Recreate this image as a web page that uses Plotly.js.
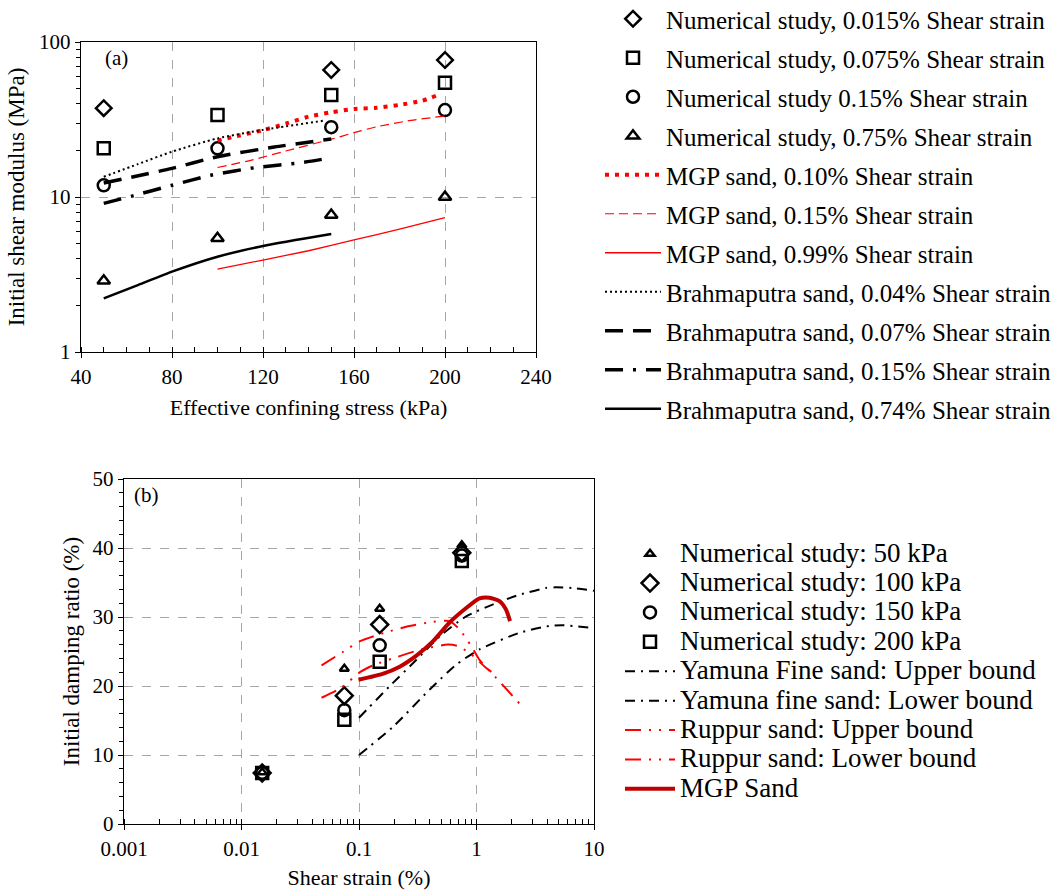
<!DOCTYPE html>
<html><head><meta charset="utf-8">
<script src="https://cdn.plot.ly/plotly-3.0.1.min.js"></script>
<style>html,body{margin:0;padding:0;background:#fff}#chart{width:1063px;height:890px}</style>
</head><body><div id="chart"></div>
<script>
// ---------- Panel (a): initial shear modulus vs effective confining stress ----------
const stressNum = [50, 100, 150, 200];
const stressNum015 = [50, 150, 200];
const gNum015 = [37.4, 66.0, 76.5];
const gNum075 = [20.6, 33.8, 45.5, 54.6];
const gNum15 = [11.9, 20.6, 28.2, 36.4];
const gNum75 = [2.88, 5.42, 7.65, 10.0];

const mgp010X = [100, 110, 120, 130, 140, 150, 160, 170, 180, 190, 196];
const mgp010Y = [23.1, 25.0, 27.0, 29.7, 33.0, 35.2, 37.0, 37.6, 39.3, 41.8, 45.0];
const mgp015X = [100, 115, 130, 150, 160, 170, 185, 200];
const mgp015Y = [15.5, 17.3, 19.8, 23.6, 26.0, 28.4, 31.2, 33.3];
const mgp099X = [100, 120, 140, 160, 180, 200];
const mgp099Y = [3.42, 3.92, 4.5, 5.28, 6.2, 7.36];

const bra004X = [50, 65, 80, 100, 120, 147];
const bra004Y = [13.5, 16.3, 19.6, 23.9, 27.1, 31.1];
const bra007X = [50, 80, 100, 125, 150];
const bra007Y = [12.3, 15.3, 18.2, 21.0, 23.7];
const bra015X = [50, 62, 80, 98, 117, 136, 149];
const bra015Y = [9.1, 10.1, 11.9, 13.9, 15.5, 16.6, 17.8];
const bra074X = [50, 65, 80, 100, 120, 150];
const bra074Y = [2.22, 2.7, 3.30, 4.12, 4.83, 5.77];

const namesA = [
  "Numerical study, 0.015% Shear strain",
  "Numerical study, 0.075% Shear strain",
  "Numerical study 0.15% Shear strain",
  "Numerical study, 0.75% Shear strain",
  "MGP sand, 0.10% Shear strain",
  "MGP sand, 0.15% Shear strain",
  "MGP sand, 0.99% Shear strain",
  "Brahmaputra sand, 0.04% Shear strain",
  "Brahmaputra sand, 0.07% Shear strain",
  "Brahmaputra sand, 0.15% Shear strain",
  "Brahmaputra sand, 0.74% Shear strain"
];

// ---------- Panel (b): initial damping ratio vs shear strain ----------
const strainNum = [0.015, 0.075, 0.15, 0.75];
const d50 = [7.5, 22.5, 31.2, 40.4];
const d100 = [7.4, 18.6, 28.9, 39.3];
const d150 = [7.4, 16.5, 25.9, 38.9];
const d200 = [7.4, 15.1, 23.5, 38.1];

const yamUpX = [0.1, 0.183, 0.308, 0.486, 0.817, 1.37, 2.3, 3.89, 4.7, 6.5, 10];
const yamUpY = [15.4, 20.0, 23.8, 27.2, 30.1, 31.8, 33.2, 34.2, 34.3, 34.2, 33.8];
const yamLoX = [0.1, 0.195, 0.40, 0.673, 1.06, 2.31, 4.15, 5.5, 10];
const yamLoY = [10.0, 14.1, 19.5, 23.1, 25.3, 27.7, 28.7, 28.8, 28.4];
const rupUpX = [0.048, 0.074, 0.102, 0.171, 0.27, 0.427, 0.59, 0.717, 0.90, 1.06, 1.62, 2.31];
const rupUpY = [23.0, 25.0, 26.5, 27.8, 28.7, 29.3, 29.4, 28.2, 25.8, 23.8, 20.4, 17.5];
const rupLoX = [0.048, 0.070, 0.102, 0.132, 0.202, 0.34, 0.571, 0.695, 0.90, 1.21, 1.52];
const rupLoY = [18.3, 19.7, 22.0, 23.0, 24.1, 25.3, 26.0, 25.8, 24.6, 22.6, 21.4];
const mgpSandX = [0.099, 0.161, 0.222, 0.308, 0.427, 0.59, 0.817, 1.06, 1.29, 1.57, 1.78, 1.93];
const mgpSandY = [20.9, 21.8, 22.8, 24.4, 26.5, 29.2, 31.3, 32.7, 32.8, 32.3, 31.1, 29.4];

const namesB = [
  "Numerical study: 50 kPa",
  "Numerical study: 100 kPa",
  "Numerical study: 150 kPa",
  "Numerical study: 200 kPa",
  "Yamuna Fine sand: Upper bound",
  "Yamuna fine sand: Lower bound",
  "Ruppur sand: Upper bound",
  "Ruppur sand: Lower bound",
  "MGP Sand"
];

const FONT = "'Liberation Serif', 'Times New Roman', serif";
const W = 1063, H = 890;
const px = v => v / W, py = v => 1 - v / H;

function mk(x, y, name, sym, size, i) {
  return {x, y, name, type: 'scatter', mode: 'markers', xaxis: 'x', yaxis: 'y',
    legend: 'legend', legendgroup: 'a' + i,
    marker: {symbol: sym, size: size, color: '#000', line: {color: '#000', width: 2.5}}};
}
function ln(x, y, name, color, width, dash, i) {
  return {x, y, name, type: 'scatter', mode: 'lines', xaxis: 'x', yaxis: 'y',
    legend: 'legend', legendgroup: 'a' + i,
    line: {color, width, dash, shape: 'spline', smoothing: 0.6}};
}
const bigB = s => '<span style="font-size:27px">' + s + '</span>';
function mkB(x, y, name, sym, size) {
  return {x, y, name: bigB(name), type: 'scatter', mode: 'markers', xaxis: 'x2', yaxis: 'y2',
    legend: 'legend2',
    marker: {symbol: sym, size: size, color: '#000', line: {color: '#000', width: 2.5}}};
}
function lnB(x, y, name, color, width, dash) {
  return {x, y, name: bigB(name), type: 'scatter', mode: 'lines', xaxis: 'x2', yaxis: 'y2',
    legend: 'legend2',
    line: {color, width, dash, shape: 'spline', smoothing: 0.6}};
}

const traces = [
  mk(stressNum015, gNum015, namesA[0], 'diamond-open', 12, 0),
  mk(stressNum, gNum075, namesA[1], 'square-open', 12, 1),
  mk(stressNum, gNum15, namesA[2], 'circle-open', 12, 2),
  mk(stressNum, gNum75, namesA[3], 'triangle-up-open', 11, 3),
  ln(mgp010X, mgp010Y, namesA[4], '#ff0000', 4, '4px,6px', 4),
  ln(mgp015X, mgp015Y, namesA[5], '#ff0000', 1.2, '9px,5px', 5),
  ln(mgp099X, mgp099Y, namesA[6], '#ff0000', 1.3, 'solid', 6),
  ln(bra004X, bra004Y, namesA[7], '#000', 2, '2px,3px', 7),
  ln(bra007X, bra007Y, namesA[8], '#000', 3.5, '18px,10px', 8),
  ln(bra015X, bra015Y, namesA[9], '#000', 3.5, '18px,10px,3px,10px', 9),
  ln(bra074X, bra074Y, namesA[10], '#000', 2.5, 'solid', 10),

  mkB(strainNum, d50, namesB[0], 'triangle-up-open', 8),
  mkB(strainNum, d100, namesB[1], 'diamond-open', 13),
  mkB(strainNum, d150, namesB[2], 'circle-open', 12),
  mkB(strainNum, d200, namesB[3], 'square-open', 12),
  lnB(yamUpX, yamUpY, namesB[4], '#000', 2, '10px,6px,2px,6px'),
  lnB(yamLoX, yamLoY, namesB[5], '#000', 2, '10px,6px,2px,6px'),
  lnB(rupUpX, rupUpY, namesB[6], '#ff0000', 2, '16px,8px,2px,8px,2px,8px'),
  lnB(rupLoX, rupLoY, namesB[7], '#ff0000', 2, '16px,8px,2px,8px,2px,8px'),
  lnB(mgpSandX, mgpSandY, namesB[8], '#c00000', 4, 'solid')
];

const gridCol = '#a6a6a6';
const axBase = {
  showline: true, linecolor: '#000', linewidth: 1.3, mirror: true,
  ticks: 'outside', ticklen: 5, tickcolor: '#000', tickwidth: 1,
  showgrid: true, gridcolor: gridCol, griddash: 'dash', gridwidth: 1,
  zeroline: false, automargin: false,
  tickfont: {family: FONT, size: 21, color: '#000'}
};

const layout = {
  width: W, height: H,
  margin: {l: 0, r: 0, t: 0, b: 0, autoexpand: false},
  paper_bgcolor: '#fff', plot_bgcolor: '#fff',
  font: {family: FONT, color: '#000'},
  showlegend: true,
  xaxis: Object.assign({}, axBase, {
    domain: [px(81), px(536)], anchor: 'y', range: [40, 240], dtick: 40, tick0: 40,
    minor: {dtick: 10, ticks: 'inside', ticklen: 5, tickcolor: '#000', showgrid: false},
    title: {text: 'Effective confining stress (kPa)', font: {family: FONT, size: 22}, standoff: 12}
  }),
  yaxis: Object.assign({}, axBase, {
    domain: [py(352), py(42)], anchor: 'x', type: 'log', range: [0, 2],
    tickvals: [1, 10, 100], ticktext: ['1', '10', '100'],
    minor: {dtick: 'D1', ticks: 'outside', ticklen: 4, tickcolor: '#000', showgrid: false},
    title: {text: 'Initial shear modulus (MPa)', font: {family: FONT, size: 23}, standoff: 8}
  }),
  xaxis2: Object.assign({}, axBase, {
    domain: [px(124), px(594)], anchor: 'y2', type: 'log', range: [-3, 1],
    tickvals: [0.001, 0.01, 0.1, 1, 10], ticktext: ['0.001', '0.01', '0.1', '1', '10'],
    minor: {dtick: 'D1', ticks: 'inside', ticklen: 5, tickcolor: '#000', showgrid: false},
    title: {text: 'Shear strain (%)', font: {family: FONT, size: 22}, standoff: 13}
  }),
  yaxis2: Object.assign({}, axBase, {
    domain: [py(824), py(479)], anchor: 'x2', range: [0, 50], dtick: 10,
    minor: {dtick: 2, ticks: 'outside', ticklen: 4, tickcolor: '#000', showgrid: false},
    title: {text: 'Initial damping ratio (%)', font: {family: FONT, size: 23}, standoff: 6}
  }),
  legend: {
    x: px(600), y: py(-4.0), xanchor: 'left', yanchor: 'top',
    bgcolor: 'rgba(0,0,0,0)', borderwidth: 0, itemwidth: 56,
    font: {family: FONT, size: 25, color: '#000'},
    traceorder: 'grouped', tracegroupgap: 3.5
  },
  legend2: {
    x: px(620), y: py(534), xanchor: 'left', yanchor: 'top',
    bgcolor: 'rgba(0,0,0,0)', borderwidth: 0, itemwidth: 50,
    font: {family: FONT, size: 20.3, color: '#000'},
    traceorder: 'normal'
  },
  annotations: [
    {text: '(a)', xref: 'paper', yref: 'paper', x: px(103), y: py(58), xanchor: 'left', yanchor: 'middle',
     showarrow: false, font: {family: FONT, size: 21, color: '#000'}},
    {text: '(b)', xref: 'paper', yref: 'paper', x: px(132), y: py(495), xanchor: 'left', yanchor: 'middle',
     showarrow: false, font: {family: FONT, size: 21, color: '#000'}}
  ]
};

Plotly.newPlot('chart', traces, layout, {displayModeBar: false, staticPlot: true});
</script>
</body></html>
